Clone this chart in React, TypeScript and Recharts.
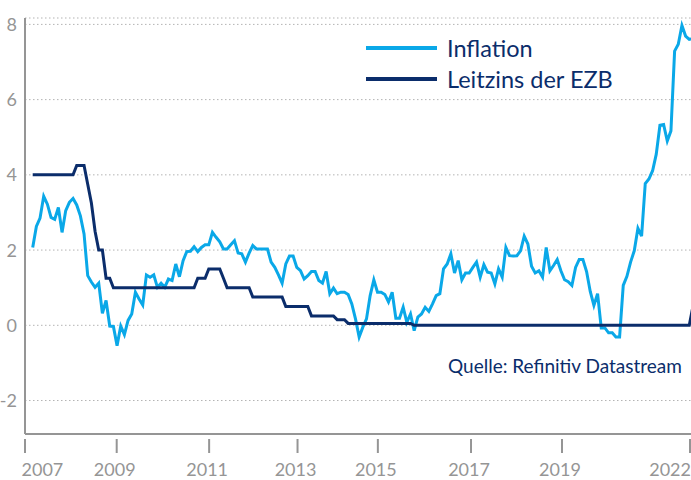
import React from 'react';
import { LineChart, Line, XAxis, YAxis, CartesianGrid, Legend } from 'recharts';

// Monthly values, index 0 = Aug 2007 ... index 180 = Aug 2022 (last point partly cut at the right edge)
const inflation: number[] = [
  2.07, 2.63, 2.85, 3.43, 3.22, 2.87, 2.82, 3.13, 2.47, 3.05,
  3.27, 3.37, 3.2, 2.91, 2.43, 1.32, 1.15, 1.01, 1.12, 0.32,
  0.66, -0.02, -0.03, -0.54, -0.02, -0.25, 0.13, 0.3, 0.88, 0.7,
  0.54, 1.34, 1.28, 1.34, 1.01, 1.12, 1.01, 1.23, 1.19, 1.63,
  1.29, 1.72, 1.96, 1.97, 2.09, 1.96, 2.07, 2.14, 2.14, 2.47,
  2.34, 2.22, 2.03, 2.03, 2.14, 2.25, 1.92, 1.9, 1.68, 1.92,
  2.12, 2.03, 2.03, 2.03, 2.03, 1.68, 1.54, 1.34, 1.12, 1.63,
  1.84, 1.84, 1.54, 1.45, 1.23, 1.32, 1.43, 1.43, 1.19, 1.12,
  1.43, 0.84, 0.99, 0.84, 0.88, 0.88, 0.82, 0.57, 0.17, -0.31,
  -0.05, 0.17, 0.79, 1.21, 0.88, 0.88, 0.82, 0.62, 0.88, 0.19,
  0.19, 0.48, 0.08, 0.3, -0.14, 0.22, 0.3, 0.48, 0.37, 0.57,
  0.79, 0.84, 1.5, 1.63, 1.9, 1.39, 1.72, 1.21, 1.39, 1.39,
  1.54, 1.68, 1.28, 1.61, 1.41, 1.39, 1.1, 1.5, 1.28, 2.07,
  1.85, 1.84, 1.85, 1.98, 2.37, 2.16, 1.57, 1.39, 1.45, 1.28,
  2.07, 1.45, 1.59, 1.75, 1.45, 1.21, 1.16, 1.06, 1.54, 1.75,
  1.75, 1.43, 0.9, 0.53, 0.84, -0.07, -0.07, -0.2, -0.2, -0.31,
  -0.31, 1.06, 1.3, 1.68, 1.98, 2.58, 2.37, 3.77, 3.89, 4.11,
  4.55, 5.32, 5.34, 4.9, 5.17, 7.29, 7.47, 7.97, 7.69, 7.6,
  7.62,
];

const leitzins: number[] = [
  4, 4, 4, 4, 4, 4, 4, 4, 4, 4,
  4, 4, 4.25, 4.25, 4.25, 3.75, 3.25, 2.5, 2, 2,
  1.25, 1.25, 1, 1, 1, 1, 1, 1, 1, 1,
  1, 1, 1, 1, 1, 1, 1, 1, 1, 1,
  1, 1, 1, 1, 1, 1.25, 1.25, 1.25, 1.5, 1.5,
  1.5, 1.5, 1.25, 1, 1, 1, 1, 1, 1, 1,
  0.75, 0.75, 0.75, 0.75, 0.75, 0.75, 0.75, 0.75, 0.75, 0.5,
  0.5, 0.5, 0.5, 0.5, 0.5, 0.5, 0.25, 0.25, 0.25, 0.25,
  0.25, 0.25, 0.25, 0.15, 0.15, 0.15, 0.05, 0.05, 0.05, 0.05,
  0.05, 0.05, 0.05, 0.05, 0.05, 0.05, 0.05, 0.05, 0.05, 0.05,
  0.05, 0.05, 0.05, 0.05, 0, 0, 0, 0, 0, 0,
  0, 0, 0, 0, 0, 0, 0, 0, 0, 0,
  0, 0, 0, 0, 0, 0, 0, 0, 0, 0,
  0, 0, 0, 0, 0, 0, 0, 0, 0, 0,
  0, 0, 0, 0, 0, 0, 0, 0, 0, 0,
  0, 0, 0, 0, 0, 0, 0, 0, 0, 0,
  0, 0, 0, 0, 0, 0, 0, 0, 0, 0,
  0, 0, 0, 0, 0, 0, 0, 0, 0, 0,
  0.5,
];

// x-axis tick positions (in month index units) and their labels
const xTickPositions = [-2.1, 22.9, 48.1, 72.2, 94.1, 119.5, 144.3, 179.2];
const xTickLabels = ['2007', '2009', '2011', '2013', '2015', '2017', '2019', '2022'];
const yTicks = [-2, 0, 2, 4, 6, 8];

const seriesNames = ['Inflation', 'Leitzins der EZB'];

const data = inflation.map((v, i) => ({ i, inflation: v, leitzins: leitzins[i] }));

const BLUE = '#0aa8e8';
const NAVY = '#0b2d6b';
const GRAY = '#959595';
const FONT = 'Lato, "Open Sans", sans-serif';

const YTick = (props: any) => {
  const { x, y, payload } = props;
  return (
    <text x={x - 8} y={y} dy="0.36em" textAnchor="end" fill={GRAY} fontSize={18} fontFamily={FONT}>
      {String(payload.value)}
    </text>
  );
};

const XTick = (props: any) => {
  const { x, y, payload } = props;
  const idx = xTickPositions.indexOf(payload.value);
  const label = xTickLabels[idx] ?? '';
  let anchor: 'start' | 'middle' | 'end' = 'middle';
  let tx = x - 2;
  if (idx === 0) {
    anchor = 'start';
    tx = x - 3.5;
  } else if (idx === xTickPositions.length - 1) {
    anchor = 'end';
    tx = x + 1;
  }
  return (
    <g>
      <line x1={x} x2={x} y1={y + 5} y2={y + 19} stroke={GRAY} strokeWidth={2} />
      <text x={tx} y={y + 42} textAnchor={anchor} fill={GRAY} fontSize={18} fontFamily={FONT}>
        {label}
      </text>
    </g>
  );
};

const LegendContent = () => {
  const items = [
    { label: seriesNames[0], color: BLUE },
    { label: seriesNames[1], color: NAVY },
  ];
  return (
    <div>
      {items.map((it) => (
        <div key={it.label} style={{ display: 'flex', alignItems: 'center', height: 31 }}>
          <span style={{ display: 'inline-block', width: 71, height: 3.5, background: it.color, marginRight: 10 }} />
          <span style={{ fontFamily: FONT, fontSize: 23.5, color: NAVY, whiteSpace: 'nowrap' }}>{it.label}</span>
        </div>
      ))}
    </div>
  );
};

export default function App() {
  return (
    <div style={{ position: 'absolute', left: 0, top: 0, width: 691, height: 480, overflow: 'hidden', background: '#fff' }}>
      <LineChart width={691} height={480} data={data} margin={{ top: 18, right: 0, left: 0, bottom: 0 }}>
        <CartesianGrid vertical={false} stroke="#b3b3b3" strokeDasharray="1.5 2.5" strokeWidth={1} />
        <XAxis
          dataKey="i"
          type="number"
          domain={[-2.1, 179.47]}
          allowDataOverflow
          ticks={xTickPositions}
          interval={0}
          height={46}
          tickSize={0}
          tickMargin={0}
          tickLine={false}
          axisLine={{ stroke: GRAY, strokeWidth: 2 }}
          tick={<XTick />}
        />
        <YAxis
          type="number"
          domain={[-2.89, 8.17]}
          allowDataOverflow
          ticks={yTicks}
          interval={0}
          width={25}
          tickSize={0}
          tickMargin={0}
          tickLine={false}
          axisLine={{ stroke: GRAY, strokeWidth: 2 }}
          tick={<YTick />}
        />
        <Legend
          layout="vertical"
          align="center"
          verticalAlign="middle"
          wrapperStyle={{ left: 366, top: 32.5, width: 300, height: 62 }}
          content={<LegendContent />}
        />
        <Line
          name={seriesNames[0]}
          type="linear"
          dataKey="inflation"
          stroke={BLUE}
          strokeWidth={3}
          dot={false}
          activeDot={false}
          isAnimationActive={false}
        />
        <Line
          name={seriesNames[1]}
          type="linear"
          dataKey="leitzins"
          stroke={NAVY}
          strokeWidth={3}
          dot={false}
          activeDot={false}
          isAnimationActive={false}
        />
      </LineChart>
      <div
        style={{
          position: 'absolute',
          left: 448,
          top: 355.5,
          fontFamily: FONT,
          fontSize: 19,
          lineHeight: '20px',
          color: NAVY,
          whiteSpace: 'nowrap',
        }}
      >
        Quelle: Refinitiv Datastream
      </div>
    </div>
  );
}
